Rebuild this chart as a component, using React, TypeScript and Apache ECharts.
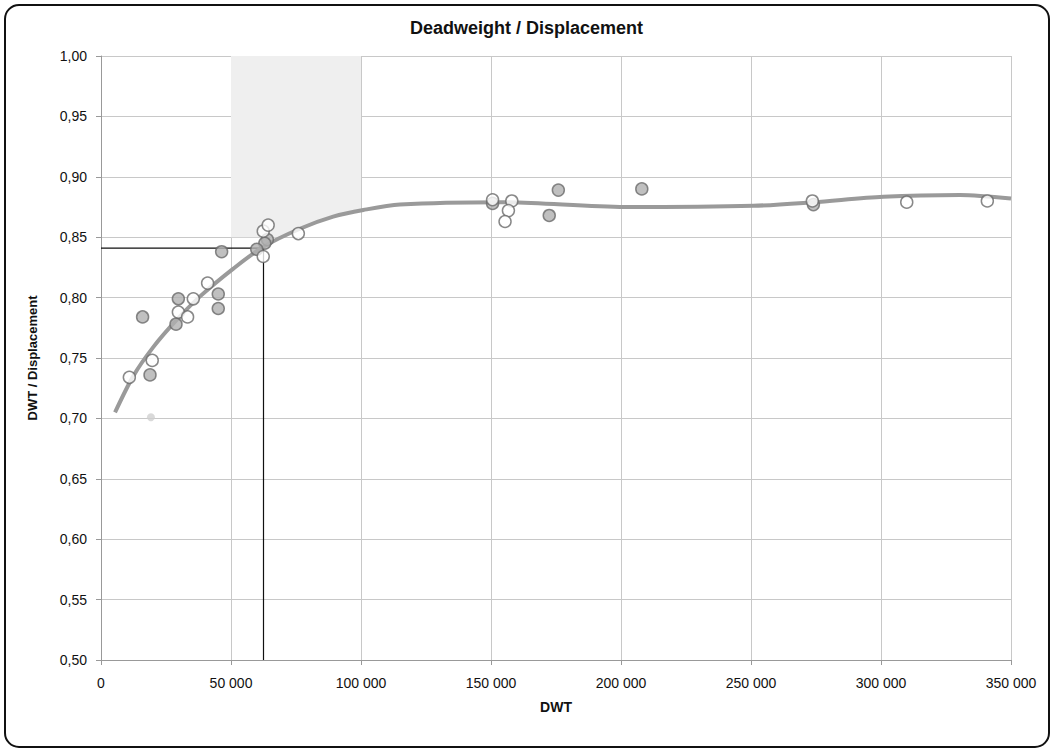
import React, { useEffect, useRef } from "react";
import * as echarts from "echarts";

const xTicks = [0, 50000, 100000, 150000, 200000, 250000, 300000, 350000];
const yTicks = [0.5, 0.55, 0.6, 0.65, 0.7, 0.75, 0.8, 0.85, 0.9, 0.95, 1.0];

// open (white) markers
const openPoints: [number, number][] = [
  [10900, 0.734],
  [19700, 0.748],
  [29750, 0.788],
  [33300, 0.784],
  [35500, 0.799],
  [41000, 0.812],
  [62400, 0.855],
  [64300, 0.86],
  [62400, 0.834],
  [75900, 0.853],
  [150600, 0.881],
  [158000, 0.88],
  [156700, 0.872],
  [155400, 0.863],
  [273600, 0.88],
  [309900, 0.879],
  [340900, 0.88],
];

// gray filled markers
const grayPoints: [number, number][] = [
  [18850, 0.736],
  [16000, 0.784],
  [28850, 0.778],
  [29750, 0.799],
  [45100, 0.803],
  [45100, 0.791],
  [46400, 0.838],
  [64000, 0.848],
  [63000, 0.845],
  [59900, 0.84],
  [150600, 0.878],
  [175900, 0.889],
  [172400, 0.868],
  [208000, 0.89],
  [274000, 0.877],
];

const faintPoints: [number, number][] = [[19200, 0.701]];

// trend curve (traced)
const trendCurve: [number, number][] = [
  [5400, 0.705],
  [12400, 0.735],
  [20100, 0.759],
  [29100, 0.7815],
  [38100, 0.801],
  [50900, 0.824],
  [62400, 0.842],
  [76500, 0.857],
  [89300, 0.867],
  [100900, 0.8725],
  [115000, 0.877],
  [153500, 0.879],
  [201500, 0.875],
  [250900, 0.876],
  [274000, 0.879],
  [300900, 0.8835],
  [330400, 0.885],
  [350000, 0.882],
];

const refLine: [number, number][] = [
  [0, 0.841],
  [62500, 0.841],
  [62500, 0.5],
];

// shaded zone: 50 000 - 100 000 DWT, above 0.85 and above the curve
const shadeLower: [number, number][] = [
  [50000, 0.85],
  [68000, 0.85],
  [76500, 0.857],
  [89300, 0.867],
  [100000, 0.872],
];

export default function App() {
  const ref = useRef<HTMLDivElement>(null);
  useEffect(() => {
    if (!ref.current) return;
    const chart = echarts.init(ref.current, undefined, { renderer: "svg" });
    const font = "'Liberation Sans', Arial, sans-serif";
    chart.setOption({
      animation: false,
      backgroundColor: "#ffffff",
      title: {
        text: "Deadweight / Displacement",
        left: "center",
        top: 14,
        textStyle: { fontFamily: font, fontWeight: "bold", fontSize: 18, color: "#111" },
      },
      graphic: [
        {
          type: "rect",
          shape: { x: 5, y: 5, width: 1044, height: 742, r: 14 },
          style: { fill: "none", stroke: "#111", lineWidth: 2 },
          silent: true,
          z: 100,
        },
      ],
      grid: { left: 101, right: 42, top: 56, bottom: 94 },
      xAxis: {
        type: "value",
        min: 0,
        max: 350000,
        interval: 50000,
        name: "DWT",
        nameLocation: "middle",
        nameGap: 40,
        nameTextStyle: { fontFamily: font, fontWeight: "bold", fontSize: 14, color: "#111" },
        axisLine: { show: true, lineStyle: { color: "#999" } },
        axisTick: { show: true, lineStyle: { color: "#999" } },
        splitLine: { show: true, lineStyle: { color: "#c8c8c8", width: 1 } },
        axisLabel: {
          fontFamily: font,
          fontSize: 14,
          color: "#111",
          margin: 16,
          formatter: (v: number) => String(v).replace(/\B(?=(\d{3})+(?!\d))/g, " "),
        },
      },
      yAxis: {
        type: "value",
        min: 0.5,
        max: 1.0,
        interval: 0.05,
        name: "DWT / Displacement",
        nameLocation: "middle",
        nameGap: 62,
        nameTextStyle: { fontFamily: font, fontWeight: "bold", fontSize: 13, color: "#111" },
        axisLine: { show: true, lineStyle: { color: "#999" } },
        axisTick: { show: true, lineStyle: { color: "#999" } },
        splitLine: { show: true, lineStyle: { color: "#c8c8c8", width: 1 } },
        axisLabel: {
          fontFamily: font,
          fontSize: 14,
          color: "#111",
          margin: 14,
          formatter: (v: number) => v.toFixed(2).replace(".", ","),
        },
      },
      series: [
        {
          type: "line",
          data: shadeLower,
          smooth: 0.3,
          symbol: "none",
          lineStyle: { width: 0, opacity: 0 },
          areaStyle: { color: "#efefef", opacity: 1, origin: "end" },
          z: 0,
          silent: true,
        },
        {
          type: "line",
          data: refLine,
          symbol: "none",
          lineStyle: { color: "#111", width: 1.2 },
          z: 2,
        },
        {
          type: "line",
          data: trendCurve,
          smooth: 0.3,
          symbol: "none",
          lineStyle: { color: "#9a9a9a", width: 4 },
          z: 3,
        },
        {
          type: "scatter",
          data: faintPoints,
          symbolSize: 8,
          itemStyle: { color: "#cfcfcf", borderWidth: 0 },
          z: 4,
        },
        {
          type: "scatter",
          data: grayPoints,
          symbolSize: 12,
          itemStyle: { color: "#b0b0b0", borderColor: "#6a6a6a", borderWidth: 1.5 },
          z: 5,
        },
        {
          type: "scatter",
          data: openPoints,
          symbolSize: 12,
          itemStyle: { color: "#ffffff", borderColor: "#6a6a6a", borderWidth: 1.5 },
          z: 6,
        },
      ],
    });
    return () => chart.dispose();
  }, []);
  return (
    <div
      ref={ref}
      style={{ position: "fixed", left: 0, top: 0, width: 1053, height: 754 }}
    />
  );
}
